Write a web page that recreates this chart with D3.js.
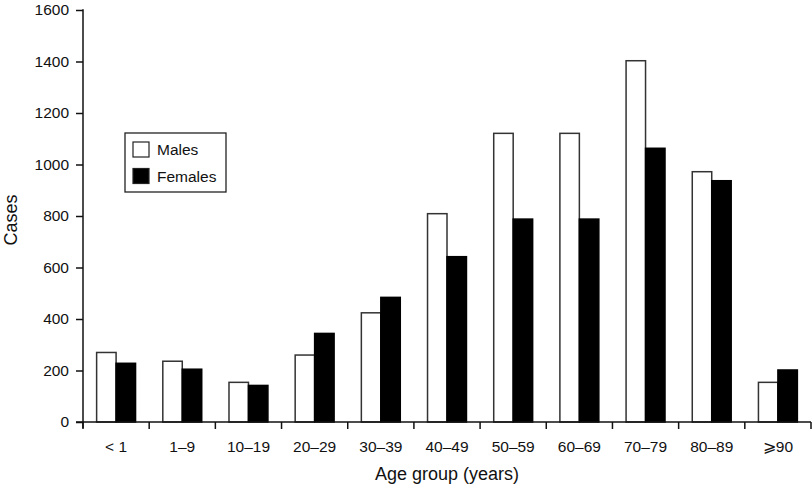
<!DOCTYPE html>
<html>
<head>
<meta charset="utf-8">
<script src="https://cdn.jsdelivr.net/npm/d3@7"></script>
<style>
  html, body { margin: 0; padding: 0; background: #fff; }
  svg { display: block; font-family: "Liberation Sans", Arial, Helvetica, sans-serif; }
  text { fill: #111; }
</style>
</head>
<body>
<svg id="chart" width="812" height="485"></svg>
<script>
const categories = ["< 1", "1\u20139", "10\u201319", "20\u201329", "30\u201339", "40\u201349", "50\u201359", "60\u201369", "70\u201379", "80\u201389", "\u2A7E90"];
const males   = [270, 236, 154, 260, 424, 809, 1121, 1121, 1403, 972, 154];
const females = [228, 205, 142, 344, 484, 642, 788, 788, 1063, 937, 202];
const seriesNames = ["Males", "Females"];
const yTicks = [0, 200, 400, 600, 800, 1000, 1200, 1400, 1600];

const svg = d3.select("#chart");
const mLeft = 83, mRight = 811, mTop = 10, mBottom = 422;

const x = d3.scaleBand().domain(categories).range([mLeft, mRight]).padding(0);
const x1 = d3.scaleBand().domain(seriesNames).range([0, x.bandwidth()]).paddingInner(0).paddingOuter(0.7);
const y = d3.scaleLinear().domain([0, 1600]).range([mBottom, mTop]);

const colors = { Males: "#fff", Females: "#000" };
const strokes = { Males: "#333", Females: "#000" };

const data = categories.map((c, i) => ({ cat: c, values: [
  { s: "Males", v: males[i] }, { s: "Females", v: females[i] }
]}));

// bars
const g = svg.append("g");
g.selectAll("g.grp").data(data).join("g")
  .attr("class", "grp")
  .attr("transform", d => `translate(${x(d.cat)},0)`)
  .selectAll("rect").data(d => d.values).join("rect")
  .attr("x", d => x1(d.s))
  .attr("y", d => y(d.v))
  .attr("width", x1.bandwidth())
  .attr("height", d => y(0) - y(d.v))
  .attr("fill", d => colors[d.s])
  .attr("stroke", d => strokes[d.s])
  .attr("stroke-width", 1.5);

// y axis
const yAxis = svg.append("g")
  .attr("transform", `translate(${mLeft},0)`)
  .call(d3.axisLeft(y).tickValues(yTicks).tickFormat(d3.format("d")).tickSize(7).tickPadding(7).tickSizeOuter(0));
yAxis.select(".domain").remove();
yAxis.selectAll(".tick line").attr("stroke", "#111").attr("stroke-width", 1.5);
yAxis.selectAll("text").attr("font-size", 15.5).attr("fill", "#111");
svg.append("line").attr("x1", mLeft).attr("x2", mLeft)
  .attr("y1", y(1600) - 0.75).attr("y2", mBottom + 6)
  .attr("stroke", "#111").attr("stroke-width", 1.5);

// x axis
svg.append("line").attr("x1", mLeft - 7).attr("x2", mRight)
  .attr("y1", mBottom).attr("y2", mBottom)
  .attr("stroke", "#111").attr("stroke-width", 1.5);
const boundaries = categories.map(c => x(c)).concat([x(categories[categories.length - 1]) + x.bandwidth()]);
svg.append("g").selectAll("line").data(boundaries).join("line")
  .attr("x1", d => d).attr("x2", d => d)
  .attr("y1", mBottom).attr("y2", mBottom + 7)
  .attr("stroke", "#111").attr("stroke-width", 1.5);
const xAxis = svg.append("g")
  .attr("transform", `translate(0,${mBottom})`)
  .call(d3.axisBottom(x).tickSize(0).tickPadding(18.5));
xAxis.select(".domain").remove();
xAxis.selectAll("text").attr("font-size", 15.5).attr("fill", "#111");

// axis titles
svg.append("text").attr("x", (mLeft + mRight) / 2).attr("y", 480)
  .attr("text-anchor", "middle").attr("font-size", 18).text("Age group (years)");
svg.append("text").attr("transform", `translate(17,220) rotate(-90)`)
  .attr("text-anchor", "middle").attr("font-size", 18).text("Cases");

// legend
const lg = svg.append("g").attr("transform", "translate(125,133)");
lg.append("rect").attr("width", 101).attr("height", 59)
  .attr("fill", "#fff").attr("stroke", "#222").attr("stroke-width", 1.3);
const items = lg.selectAll("g.item").data(seriesNames).join("g")
  .attr("class", "item")
  .attr("transform", (d, i) => `translate(8,${9 + i * 26.5})`);
items.append("rect").attr("width", 16).attr("height", 15)
  .attr("fill", d => colors[d]).attr("stroke", "#222").attr("stroke-width", 1.2);
items.append("text").attr("x", 24).attr("y", 13).attr("font-size", 15.5).text(d => d);
</script>
</body>
</html>
